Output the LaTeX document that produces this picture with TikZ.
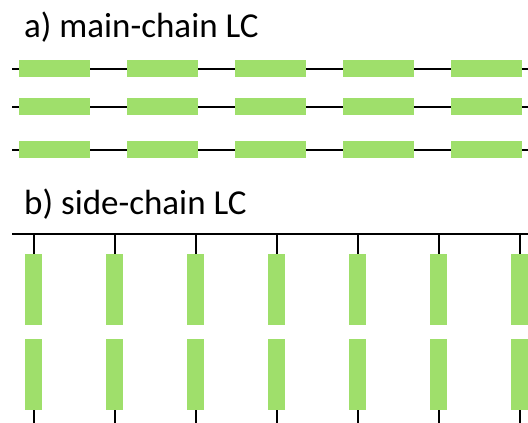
\documentclass[tikz,border=0pt]{standalone}
\usepackage{fontspec}
\setmainfont{Carlito}
\definecolor{lcgreen}{HTML}{9FDF6B}
\begin{document}
\begin{tikzpicture}[x=1pt,y=-1pt,
  mesogen/.style={rectangle,fill=lcgreen,inner sep=0pt,outer sep=0pt},
  hbar/.style={mesogen,minimum width=71pt,minimum height=17pt},
  vbar/.style={mesogen,minimum width=17pt,minimum height=71pt},
  chain/.style={draw=black,line width=2pt},
  heading/.style={anchor=base west,inner sep=0pt,font=\fontsize{35}{40}\selectfont}]
\useasboundingbox (0,0) rectangle (528,423);

% a) main-chain: mesogens built into the backbone
\node[heading] (ta) at (24,37.5) {a) main-chain LC};
\foreach \r/\y in {1/68.5,2/106.5,3/149.5}{
  \coordinate (a\r s) at (12,\y);
  \coordinate (a\r e) at (528,\y);
  \foreach \i/\x in {1/54.5,2/162.5,3/270.5,4/378.5,5/486.5}
    \node[hbar] (a\r m\i) at (\x,\y) {};
  \draw[chain] (a\r s) -- (a\r m1.west);
  \draw[chain] (a\r m1.east) -- (a\r m2.west);
  \draw[chain] (a\r m2.east) -- (a\r m3.west);
  \draw[chain] (a\r m3.east) -- (a\r m4.west);
  \draw[chain] (a\r m4.east) -- (a\r m5.west);
  \draw[chain] (a\r m5.east) -- (a\r e);
}

% b) side-chain: mesogens hanging from the backbone
\node[heading] (tb) at (24,214) {b) side-chain LC};
\coordinate (bs) at (12,233.5);
\coordinate (be) at (528,233.5);
\draw[chain] (bs) -- (be);
\foreach \i/\x in {1/33.5,2/114.5,3/195.5,4/276.5,5/357.5,6/438.5,7/519.5}{
  \coordinate (bt\i) at (\x,233.5);
  \coordinate (bb\i) at (\x,423);
  \node[vbar] (bu\i) at (\x,289.5) {};
  \node[vbar] (bl\i) at (\x,374.5) {};
  \draw[chain] (bt\i) -- (bu\i.north);
  \draw[chain] (bl\i.south) -- (bb\i);
}
\end{tikzpicture}
\end{document}
